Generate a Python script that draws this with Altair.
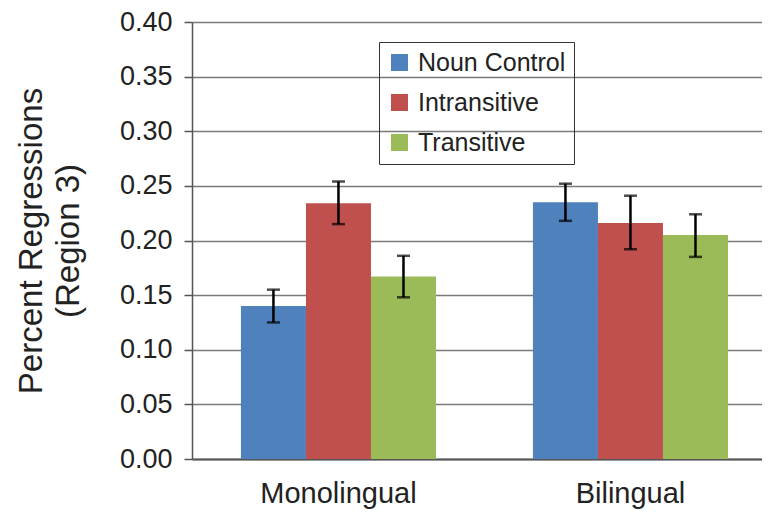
import altair as alt
import pandas as pd

groups = ["Monolingual", "Bilingual"]
conditions = ["Noun Control", "Intransitive", "Transitive"]
colors = ["#4F81BD", "#C0504D", "#9BBB59"]

mono_values = [0.140, 0.234, 0.167]
mono_lo = [0.125, 0.215, 0.148]
mono_hi = [0.155, 0.254, 0.186]

bi_values = [0.235, 0.216, 0.205]
bi_lo = [0.218, 0.192, 0.185]
bi_hi = [0.252, 0.241, 0.224]

y_ticks = [0.0, 0.05, 0.10, 0.15, 0.20, 0.25, 0.30, 0.35, 0.40]

rows = []
for g, vals, los, his in [("Monolingual", mono_values, mono_lo, mono_hi),
                          ("Bilingual", bi_values, bi_lo, bi_hi)]:
    for c, v, lo, hi in zip(conditions, vals, los, his):
        rows.append({"group": g, "condition": c, "value": v, "lo": lo, "hi": hi})
df = pd.DataFrame(rows)

FONT = "Liberation Sans"
TEXT = "#222222"
GRID = "#7a7a7a"

x_enc = alt.X(
    "group:N", sort=groups,
    scale=alt.Scale(domain=groups, paddingInner=0.332, paddingOuter=0.142, align=0.59),
    axis=alt.Axis(title=None, labelAngle=0, labelFontSize=29, labelFont=FONT,
                  labelColor=TEXT, ticks=False, labelPadding=20,
                  domainColor="#555555", domainWidth=2, grid=False),
)
xo_enc = alt.XOffset("condition:N", sort=conditions,
                     scale=alt.Scale(domain=conditions, paddingInner=0, paddingOuter=0))

y_scale = alt.Scale(domain=[0, 0.4], nice=False)

bars = alt.Chart(df).mark_bar().encode(
    x=x_enc,
    xOffset=xo_enc,
    y=alt.Y("value:Q", scale=y_scale,
            axis=alt.Axis(values=y_ticks, format=".2f",
                          title=["Percent Regressions", "(Region 3)"],
                          titleFontSize=33, titleFont=FONT, titleFontWeight="normal",
                          titleColor=TEXT, titlePadding=34, titleLineHeight=37,
                          labelFontSize=27, labelFont=FONT, labelColor=TEXT,
                          labelPadding=12, tickSize=8, tickColor="#555555", tickWidth=1.5,
                          domainColor="#555555", domainWidth=1.5,
                          grid=True, gridColor=GRID, gridWidth=1.5)),
    color=alt.Color("condition:N", sort=conditions,
                    scale=alt.Scale(domain=conditions, range=colors),
                    legend=alt.Legend(title=None, orient="none", legendX=187, legendY=20,
                                      symbolType="square", symbolSize=289,
                                      symbolStrokeWidth=0, labelFontSize=25,
                                      labelFont=FONT, labelColor=TEXT,
                                      strokeColor="#333333", padding=8,
                                      rowPadding=14, labelOffset=6)),
)

rules = alt.Chart(df).mark_rule(color="black", strokeWidth=2.5).encode(
    x=alt.X("group:N", sort=groups), xOffset=xo_enc,
    y=alt.Y("lo:Q", scale=y_scale), y2="hi:Q",
)
caps_lo = alt.Chart(df).mark_tick(color="black", thickness=2.5, size=13,
                                  orient="horizontal").encode(
    x=alt.X("group:N", sort=groups), xOffset=xo_enc,
    y=alt.Y("lo:Q", scale=y_scale),
)
caps_hi = alt.Chart(df).mark_tick(color="black", thickness=2.5, size=13,
                                  orient="horizontal").encode(
    x=alt.X("group:N", sort=groups), xOffset=xo_enc,
    y=alt.Y("hi:Q", scale=y_scale),
)

chart = alt.layer(bars, rules, caps_lo, caps_hi).properties(
    width=570, height=437,
    autosize=alt.AutoSizeParams(type="none"),
    padding={"left": 184, "top": 14, "right": 0, "bottom": 53},
).configure_view(stroke=None).configure(background="white")

chart.save("out.html", embed_options={"renderer": "svg", "actions": False})
